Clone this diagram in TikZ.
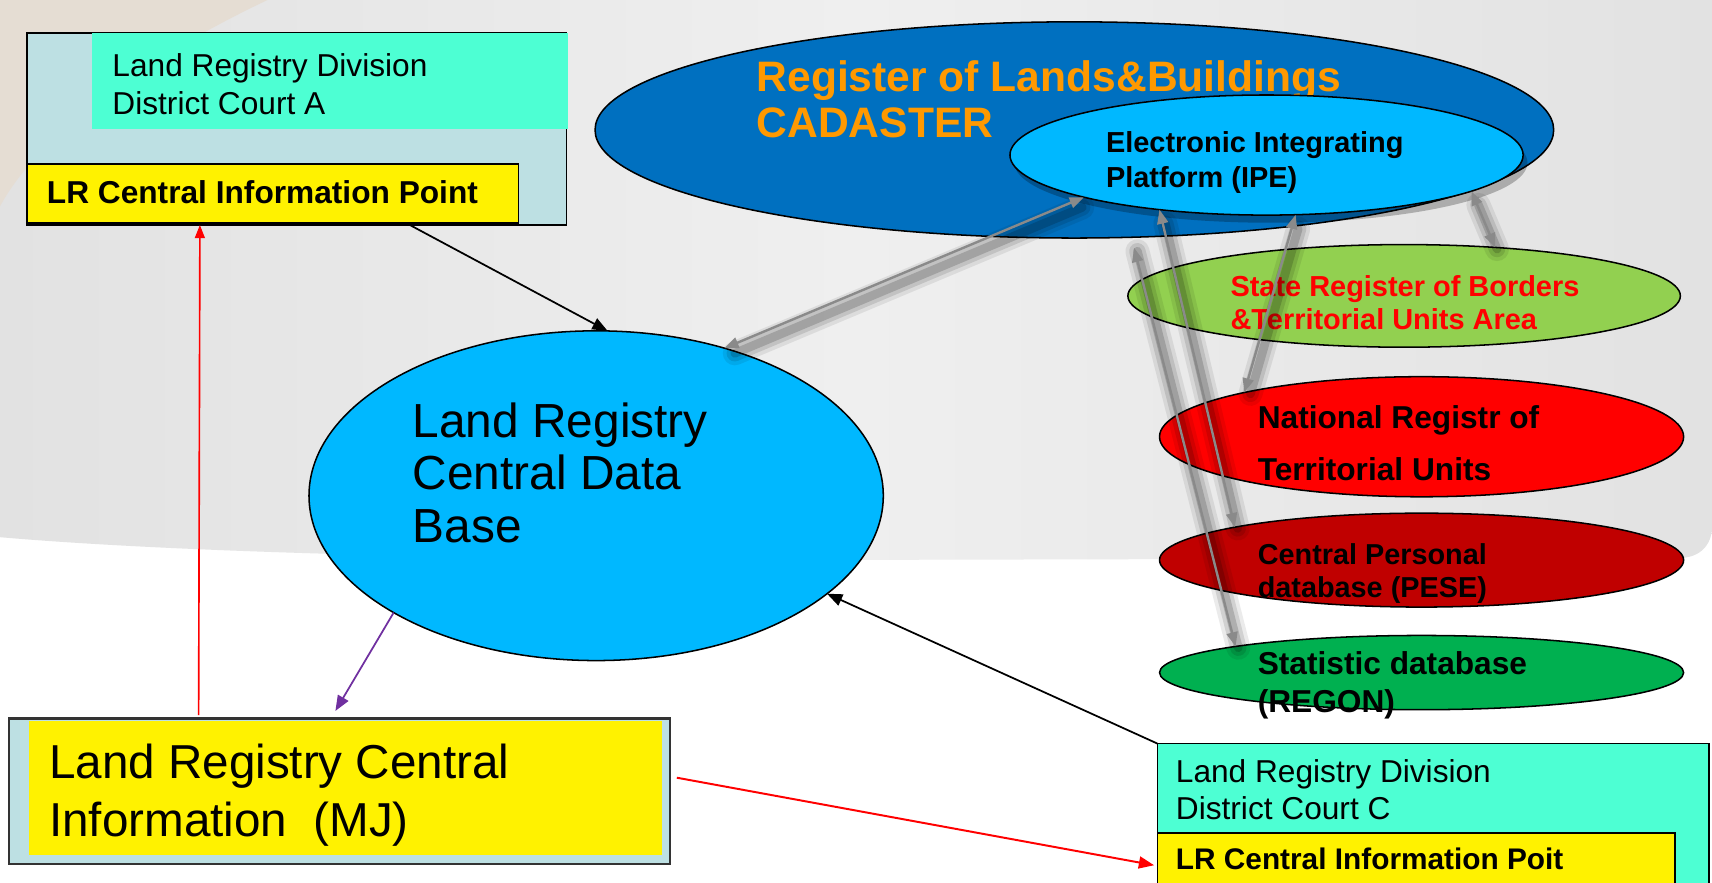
\documentclass[tikz,border=0pt]{standalone}
\usepackage{fontspec}
\setmainfont{Liberation Sans}
\usetikzlibrary{arrows.meta,shapes.geometric,calc}
\definecolor{bgbeige}{HTML}{E5DDD3}
\definecolor{bgA}{HTML}{E2E2E2}
\definecolor{bgB}{HTML}{EFEFEF}
\definecolor{boxgray}{HTML}{BDE0E3}
\definecolor{tealbox}{HTML}{4DFFD3}
\definecolor{cadblue}{HTML}{0070C0}
\definecolor{skyblue}{HTML}{00B8FF}
\definecolor{lgreen}{HTML}{92D050}
\definecolor{dred}{HTML}{C00000}
\definecolor{mgreen}{HTML}{00B050}
\definecolor{orangetxt}{HTML}{FF9900}
\definecolor{purplearr}{HTML}{7030A0}
\definecolor{arrgray}{HTML}{8A8A8A}
\newcommand\fsz[2]{\fontsize{#1}{#2}\selectfont}
\newcommand\gconn[3][]{%
  \foreach \w/\o in {22/0.08,15/0.11,8/0.16}{%
    \draw[line width=\w pt, black, opacity=\o, line cap=round, shorten <=6pt, shorten >=6pt] ($(#2)+(4,7)$) -- ($(#3)+(4,7)$);}%
  \draw[garrow,#1] (#2) -- (#3);}
\begin{document}
\begin{tikzpicture}[x=1pt,y=-1pt,
  ell/.style={ellipse, draw=black, line width=1.4pt, inner sep=0pt, outer sep=0pt},
  rbox/.style={rectangle, inner sep=0pt, outer sep=0pt, anchor=north west},
  lbl/.style={inner sep=0pt, outer sep=0pt, anchor=west, align=left},
  garrow/.style={draw=arrgray, line width=2.2pt, {Triangle[length=13pt,width=10pt]}-{Triangle[length=13pt,width=10pt]}},
  blkarrow/.style={line width=1.6pt, -{Triangle[length=14pt,width=11pt]}}
]
\useasboundingbox (0,0) rectangle (1568,808);
\begin{scope}
\clip (0,0) rectangle (1568,808);
% background
\fill[white] (0,0) rectangle (1568,808);
\shade[left color=bgA, right color=bgA, middle color=bgB] (0,0) -- (1568,0) -- (1568,482) .. controls (1568,500) and (1556,511) .. (1538,511) -- (700,513) .. controls (400,512) and (150,505) .. (0,492) -- cycle;
\fill[bgbeige] (0,0) -- (245,0) .. controls (150,45) and (40,115) .. (0,189) -- cycle;

% Box A
\node[rbox, fill=boxgray, draw=black, line width=1.5pt, minimum width=494pt, minimum height=176pt] (boxA) at (25,30) {};
\node[rbox, fill=tealbox, minimum width=436pt, minimum height=88pt] (tealA) at (84,30) {};
\node[rbox, fill=yellow, draw=black, line width=1.5pt, minimum width=450pt, minimum height=54pt] (lrA) at (25,150) {};
\node[lbl, font=\fsz{29}{35}] (tA) at (103,77) {Land Registry Division\\District Court A};
\node[lbl, font=\fsz{29}{35}\bfseries] (tLRA) at (43,176) {LR Central Information Point};

% Cadaster
\node[ell, fill=cadblue, minimum width=878pt, minimum height=198pt] (cad) at (984,119) {};
\node[lbl, font=\fsz{39}{42}\bfseries, text=orangetxt] (tCad) at (693,91) {Register of Lands\&Buildings\\CADASTER};
\fill[black, opacity=0.25] (1164,149) ellipse [x radius=235, y radius=55];
\node[ell, fill=skyblue, minimum width=470pt, minimum height=110pt] (ipe) at (1160,142) {};
\node[lbl, font=\fsz{26.5}{32}\bfseries] (tIPE) at (1013,149) {Electronic Integrating\\Platform (IPE)};

% right ellipses
\node[ell, fill=lgreen, minimum width=506pt, minimum height=94pt] (grn) at (1286,271) {};
\node[lbl, font=\fsz{26.5}{30}\bfseries, text=red] (tGrn) at (1127,277) {State Register of Borders\\\&Territorial Units Area};
\node[ell, fill=red, minimum width=480pt, minimum height=110pt] (nat) at (1302,400) {};
\node[lbl, font=\fsz{29}{47}\bfseries] (tNat) at (1152,406) {National Registr of\\Territorial Units};
\node[ell, fill=dred, minimum width=480pt, minimum height=86pt] (pese) at (1302,513) {};
\node[lbl, font=\fsz{26.4}{30}\bfseries] (tPese) at (1152,525) {Central Personal\\database (PESE)};
\node[ell, fill=mgreen, minimum width=480pt, minimum height=68pt] (regon) at (1302,616) {};
\node[lbl, font=\fsz{29}{35}\bfseries] (tRegon) at (1152,628) {Statistic database\\(REGON)};

% Central DB
\node[ell, fill=skyblue, minimum width=526pt, minimum height=302pt] (db) at (546,454) {};
\node[lbl, font=\fsz{43.8}{48}] (tDB) at (378,433) {Land Registry\\Central Data\\Base};

% MJ box
\node[rbox, fill=boxgray, draw=black!80, line width=2pt, minimum width=606pt, minimum height=133pt] (mj) at (8,658) {};
\node[rbox, fill=yellow, minimum width=579pt, minimum height=123pt] (mjin) at (27,660) {};
\node[lbl, font=\fsz{43.6}{53}] (tMJ) at (45,728) {Land Registry Central\\Information~~(MJ)};

% Box C
\node[rbox, fill=tealbox, draw=black, line width=1.5pt, minimum width=505pt, minimum height=150pt] (boxC) at (1060,681) {};
\node[rbox, fill=yellow, draw=black, line width=1.5pt, minimum width=474pt, minimum height=60pt] (lrC) at (1060,763) {};
\node[lbl, font=\fsz{29}{34}] (tC) at (1077,723) {Land Registry Division\\District Court C};
\node[lbl, font=\fsz{27.3}{32}\bfseries] (tLRC) at (1077,787) {LR Central Information Poit};

% connectors
\draw[blkarrow] ($(boxA.south west)!0.709!(boxA.south east)$) -- (db.86);
\draw[blkarrow] (boxC.north west) -- (db.337);
\draw[line width=1.6pt, purplearr, -{Triangle[length=14pt,width=11pt]}, shorten >=8pt] (db.210) -- ($(mj.north west)!0.487!(mj.north east)$);
\draw[line width=1.5pt, red, -{Triangle[length=12pt,width=9pt]}, shorten <=3pt] ($(mj.north west)!0.287!(mj.north east)$) -- ($(boxA.south west)!0.32!(boxA.south east)$);
\draw[line width=1.8pt, red, -{Triangle[length=14pt,width=11pt]}, shorten <=6pt, shorten >=3pt] ($(mj.north east)!0.4!(mj.south east)$) -- (lrC.west);

\gconn{db.49}{ipe.193}
\gconn{ipe.350}{grn.28}
\gconn{ipe.296}{nat.166}
\gconn{ipe.207}{pese.170}
\gconn[shorten <=10pt]{cad.298}{regon.172}
\end{scope}
\end{tikzpicture}
\end{document}
